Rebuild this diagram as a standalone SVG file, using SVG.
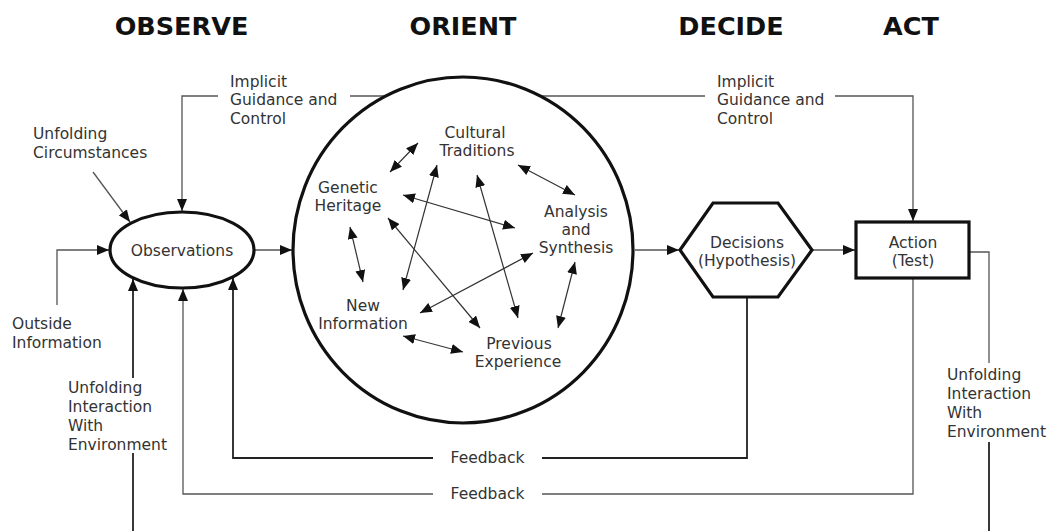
<svg xmlns="http://www.w3.org/2000/svg" width="1049" height="531" viewBox="0 0 1049 531">
<style>
text{font-family:"DejaVu Sans","Liberation Sans",sans-serif;font-size:15.5px;fill:#333}
.h{font-size:25.5px;font-weight:bold;fill:#111;text-anchor:middle}
.m{text-anchor:middle}
.c{fill:none;stroke:#555;stroke-width:1.3}
.d{fill:none;stroke:#222;stroke-width:1.8}
.i{fill:none;stroke:#333;stroke-width:1.2;marker-start:url(#ah);marker-end:url(#ah)}
.n{fill:#fff;stroke:#111;stroke-width:3.2}
</style>
<defs>
<marker id="ah" viewBox="0 0 12 10" refX="12" refY="5" markerWidth="12" markerHeight="10" markerUnits="userSpaceOnUse" orient="auto-start-reverse">
<path d="M0,0 L12,5 L0,10 z" fill="#111"/>
</marker>
</defs>
<rect width="1049" height="531" fill="#fff"/>
<g id="headers">
<text class="h" x="181.5" y="35">OBSERVE</text>
<text class="h" x="463" y="35">ORIENT</text>
<text class="h" x="731" y="35">DECIDE</text>
<text class="h" x="911" y="35">ACT</text>
</g>
<g id="connectors">
<polyline class="c" points="218,96 182,96 182,211" marker-end="url(#ah)"/>
<line class="c" x1="350" y1="96" x2="705" y2="96"/>
<polyline class="c" points="835,96 913,96 913,221" marker-end="url(#ah)"/>
<line class="c" x1="93" y1="172" x2="130" y2="222" marker-end="url(#ah)"/>
<polyline class="c" points="57,305 57,250 109,250" marker-end="url(#ah)"/>
<line class="c" x1="254" y1="250" x2="292" y2="250" marker-end="url(#ah)"/>
<line class="c" x1="635" y1="250" x2="679" y2="250" marker-end="url(#ah)"/>
<line class="c" x1="812" y1="250" x2="855" y2="250" marker-end="url(#ah)"/>
<polyline class="c" points="970,252 989,252 989,363"/>
<line class="d" x1="989" y1="442" x2="989" y2="531"/>
<line class="d" x1="133" y1="378" x2="133" y2="279" marker-end="url(#ah)"/>
<line class="d" x1="133" y1="453" x2="133" y2="531"/>
<polyline class="c" points="913,279 913,494 542,494"/>
<polyline class="c" points="433,494 183,494 183,289" marker-end="url(#ah)"/>
<polyline class="d" points="747,298 747,458 542,458"/>
<polyline class="d" points="433,458 233,458 233,278" marker-end="url(#ah)"/>
</g>
<g id="labels">
<text x="230" y="86.5">Implicit</text>
<text x="230" y="105">Guidance and</text>
<text x="230" y="123.5">Control</text>
<text x="717" y="86.5">Implicit</text>
<text x="717" y="105">Guidance and</text>
<text x="717" y="123.5">Control</text>
<text x="33" y="139">Unfolding</text>
<text x="33" y="157.5">Circumstances</text>
<text x="12" y="328.5">Outside</text>
<text x="12" y="348">Information</text>
<text x="68" y="393">Unfolding</text>
<text x="68" y="412">Interaction</text>
<text x="68" y="431">With</text>
<text x="68" y="450">Environment</text>
<text x="947" y="380">Unfolding</text>
<text x="947" y="399">Interaction</text>
<text x="947" y="418">With</text>
<text x="947" y="437">Environment</text>
<text class="m" x="487.5" y="462.5">Feedback</text>
<text class="m" x="487.5" y="498.5">Feedback</text>
</g>
<g id="observations">
<ellipse class="n" cx="182" cy="250" rx="72" ry="38"/>
<text class="m" x="182" y="255.5">Observations</text>
</g>
<g id="orient">
<ellipse class="n" cx="463" cy="250" rx="170" ry="173"/>
<g id="orient-arrows">
<line class="i" x1="390" y1="172" x2="418" y2="143"/>
<line class="i" x1="518" y1="165" x2="575" y2="195"/>
<line class="i" x1="403" y1="195" x2="515" y2="228"/>
<line class="i" x1="437" y1="165" x2="403" y2="290"/>
<line class="i" x1="477" y1="175" x2="518" y2="318"/>
<line class="i" x1="388" y1="218" x2="480" y2="328"/>
<line class="i" x1="350" y1="227" x2="363" y2="282"/>
<line class="i" x1="533" y1="253" x2="420" y2="313"/>
<line class="i" x1="575" y1="262" x2="558" y2="328"/>
<line class="i" x1="403" y1="336" x2="463" y2="352"/>
</g>
<g id="cultural"><text class="m" x="475" y="137.5">Cultural</text><text class="m" x="477" y="155.5">Traditions</text></g>
<g id="genetic"><text class="m" x="348" y="192.5">Genetic</text><text class="m" x="348" y="210.5">Heritage</text></g>
<g id="analysis"><text class="m" x="576" y="216.5">Analysis</text><text class="m" x="576" y="234.5">and</text><text class="m" x="576" y="252.5">Synthesis</text></g>
<g id="newinfo"><text class="m" x="363" y="310.5">New</text><text class="m" x="363" y="328.5">Information</text></g>
<g id="previous"><text class="m" x="519" y="348.5">Previous</text><text class="m" x="518" y="367">Experience</text></g>
</g>
<g id="decisions">
<polygon class="n" points="680,250 713,203 778,203 812,250 778,297 713,297"/>
<text class="m" x="747" y="247.5">Decisions</text>
<text class="m" x="747" y="265.5">(Hypothesis)</text>
</g>
<g id="action">
<rect class="n" x="856" y="222" width="113" height="56"/>
<text class="m" x="913" y="247.5">Action</text>
<text class="m" x="913" y="265.5">(Test)</text>
</g>
</svg>
